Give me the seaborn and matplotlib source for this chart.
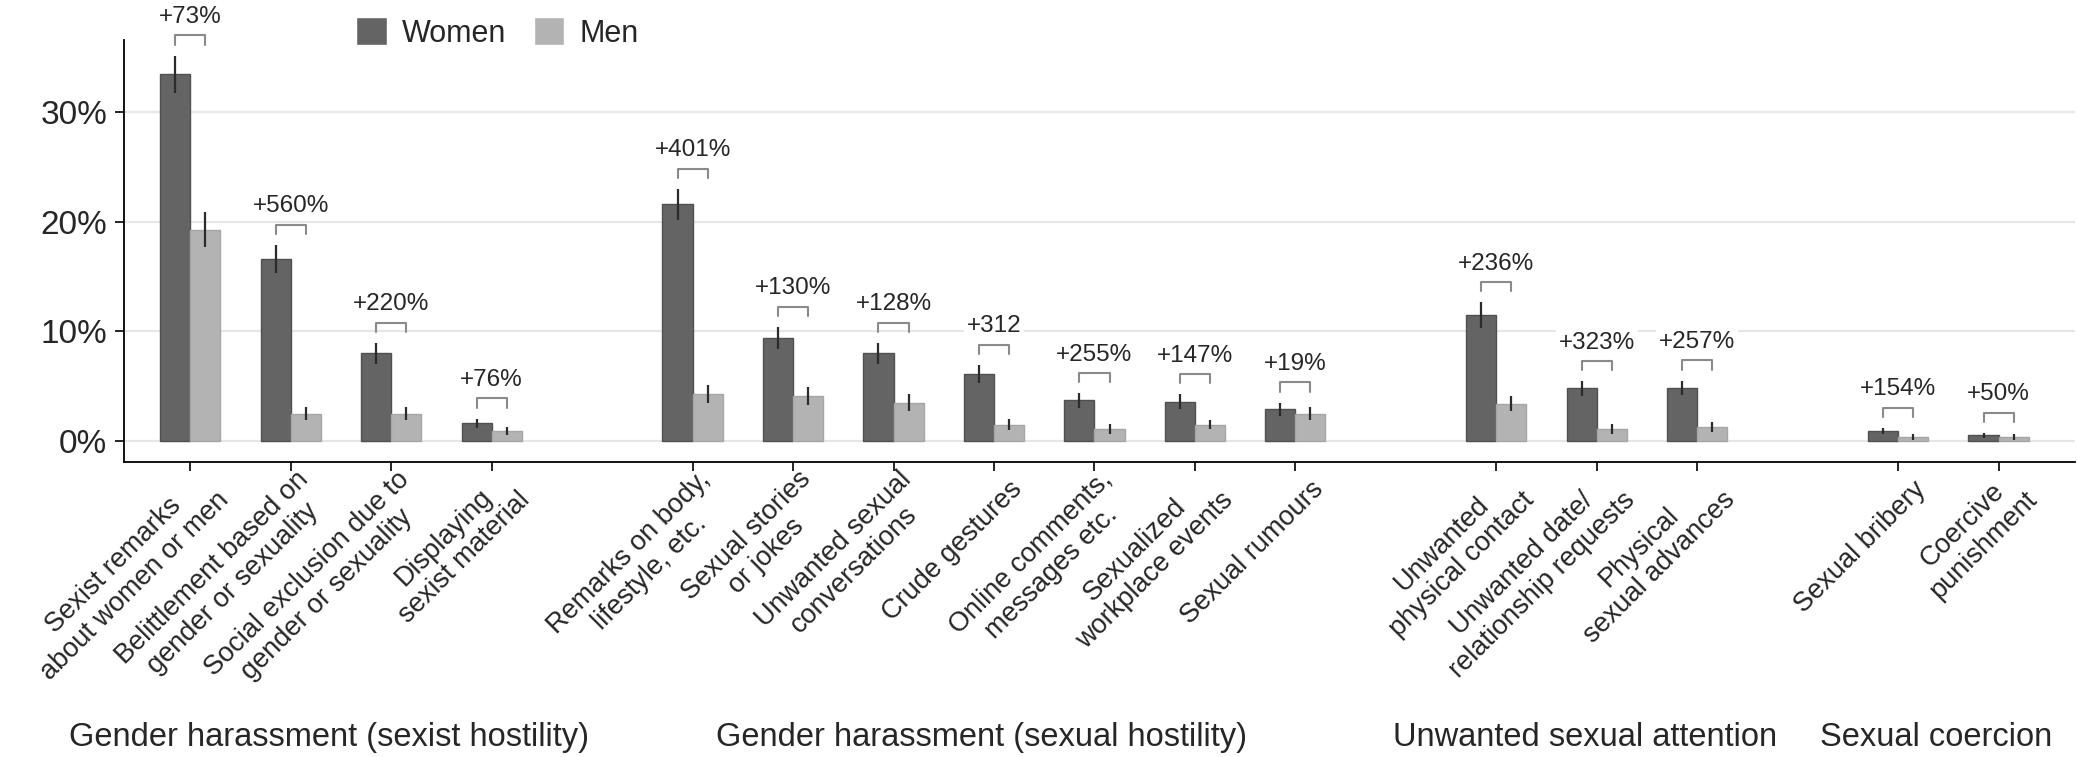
import matplotlib
matplotlib.use("Agg")
import matplotlib.pyplot as plt
from matplotlib.transforms import ScaledTranslation, blended_transform_factory
import seaborn as sns
import pandas as pd

sns.set_theme(style="white")
plt.rcParams['font.family'] = ['Liberation Sans', 'DejaVu Sans']

# data (percent)
groups = ["Gender harassment (sexist hostility)", "Gender harassment (sexual hostility)",
          "Unwanted sexual attention", "Sexual coercion"]
categories = ["Sexist remarks\nabout women or men", "Belittlement based on\ngender or sexuality",
              "Social exclusion due to\ngender or sexuality", "Displaying\nsexist material",
              "Remarks on body,\nlifestyle, etc.", "Sexual stories\nor jokes",
              "Unwanted sexual\nconversations", "Crude gestures",
              "Online comments,\nmessages etc.", "Sexualized\nworkplace events", "Sexual rumours",
              "Unwanted\nphysical contact", "Unwanted date/\nrelationship requests",
              "Physical\nsexual advances", "Sexual bribery", "Coercive\npunishment"]
group_of = [0, 0, 0, 0, 1, 1, 1, 1, 1, 1, 1, 2, 2, 2, 3, 3]
women = [33.5, 16.6, 8.0, 1.6, 21.6, 9.4, 8.0, 6.1, 3.7, 3.6, 2.9, 11.5, 4.8, 4.85, 0.9, 0.5]
men = [19.3, 2.5, 2.5, 0.9, 4.3, 4.1, 3.5, 1.5, 1.1, 1.5, 2.5, 3.4, 1.1, 1.3, 0.35, 0.35]
women_err = [1.7, 1.3, 0.95, 0.45, 1.4, 1.0, 0.95, 0.85, 0.65, 0.65, 0.6, 1.15, 0.65, 0.65, 0.3, 0.25]
men_err = [1.6, 0.6, 0.6, 0.4, 0.8, 0.8, 0.75, 0.5, 0.45, 0.45, 0.6, 0.7, 0.45, 0.45, 0.25, 0.25]
diff_labels = ["+73%", "+560%", "+220%", "+76%", "+401%", "+130%", "+128%", "+312",
               "+255%", "+147%", "+19%", "+236%", "+323%", "+257%", "+154%", "+50%"]

# category order with an empty slot between groups
order = []
for g in range(len(groups)):
    if g:
        order.append(" " * g)
    order += [c for c, gg in zip(categories, group_of) if gg == g]

df = pd.DataFrame({
    "category": categories * 2,
    "sex": ["Women"] * len(categories) + ["Men"] * len(categories),
    "value": women + men,
})

fig = plt.figure(figsize=(20.77, 7.57), dpi=100)
ax = fig.add_axes([0.0597, 0.3897, 0.9393, 0.5575])

sns.barplot(data=df, x="category", y="value", hue="sex", order=order,
            hue_order=["Women", "Men"], palette=["#646464", "#b3b3b3"],
            width=0.6, gap=0, errorbar=None, linewidth=1, ax=ax, zorder=2)

edge = {"Women": "#505050", "Men": "#a6a6a6"}
centers = {}
for cont, sex in zip(ax.containers, ["Women", "Men"]):
    for bar in cont:
        bar.set_edgecolor(edge[sex])
        xc = bar.get_x() + bar.get_width() / 2
        cat = order[int(round(xc))]
        if cat.strip():
            centers[(cat, sex)] = xc

# error bars and difference brackets
for i, cat in enumerate(categories):
    xw, xm = centers[(cat, "Women")], centers[(cat, "Men")]
    ax.errorbar([xw, xm], [women[i], men[i]], yerr=[women_err[i], men_err[i]],
                fmt="none", ecolor="#2b2b2b", elinewidth=1.6, capsize=0, zorder=3)
    yb = max(women[i] + women_err[i], men[i] + men_err[i]) + 1.0
    yt = yb + 0.85
    ax.plot([xw, xw, xm, xm], [yb, yt, yt, yb], color="#8a8a8a", lw=1.5,
            clip_on=False, zorder=3)
    ax.text((xw + xm) / 2, yt + 1.68, diff_labels[i], ha="center", va="center",
            fontsize=17.5, zorder=4,
            bbox=dict(facecolor="white", edgecolor="none", pad=2))

ax.set_xlim(-0.66, 18.76)
ax.set_ylim(-1.92, 36.62)
ax.set_xlabel("")
ax.set_ylabel("")
ax.tick_params(axis="both", direction="out", length=6.5, width=1.2, color="black",
               bottom=True, left=True)
ax.tick_params(axis="y", pad=5.5)
ax.tick_params(axis="x", pad=2)
ax.set_yticks([0, 10, 20, 30])
ax.set_yticklabels([f"{v}%" for v in [0, 10, 20, 30]], fontsize=24)
ax.set_xticks([order.index(c) for c in categories])
ax.set_xticklabels(categories, rotation=45, ha="right", va="center",
                   rotation_mode="anchor", fontsize=19.5, multialignment="center",
                   linespacing=1.15)
# shift the slanted labels (after tick_params, which resets label transforms)
shift = ScaledTranslation(0.24, -0.12, fig.dpi_scale_trans)
for lab in ax.get_xticklabels():
    lab.set_transform(lab.get_transform() + shift)

ax.yaxis.grid(True, color="#e6e6e6", lw=1.6)
ax.set_axisbelow(True)
for s in ["top", "right"]:
    ax.spines[s].set_visible(False)
for s in ["left", "bottom"]:
    ax.spines[s].set_color("black")
    ax.spines[s].set_linewidth(1.3)

# group labels under the tick labels
trans = blended_transform_factory(ax.transData, ax.transAxes)
for g, name in enumerate(groups):
    pos = [order.index(c) for c, gg in zip(categories, group_of) if gg == g]
    ax.text(sum(pos) / len(pos) - 0.12, -0.652, name, transform=trans,
            ha="center", va="center", fontsize=23.5)

handles, labels = ax.get_legend_handles_labels()
ax.legend(handles, labels, loc="center left", bbox_to_anchor=(356 / 2077, 1 - 33 / 757),
          bbox_transform=fig.transFigure, ncol=2, frameon=False, fontsize=22,
          handlelength=1.0, handleheight=1.0, handletextpad=0.5, columnspacing=0.9,
          borderpad=0, borderaxespad=0)

fig.savefig("out.png", dpi=100)
